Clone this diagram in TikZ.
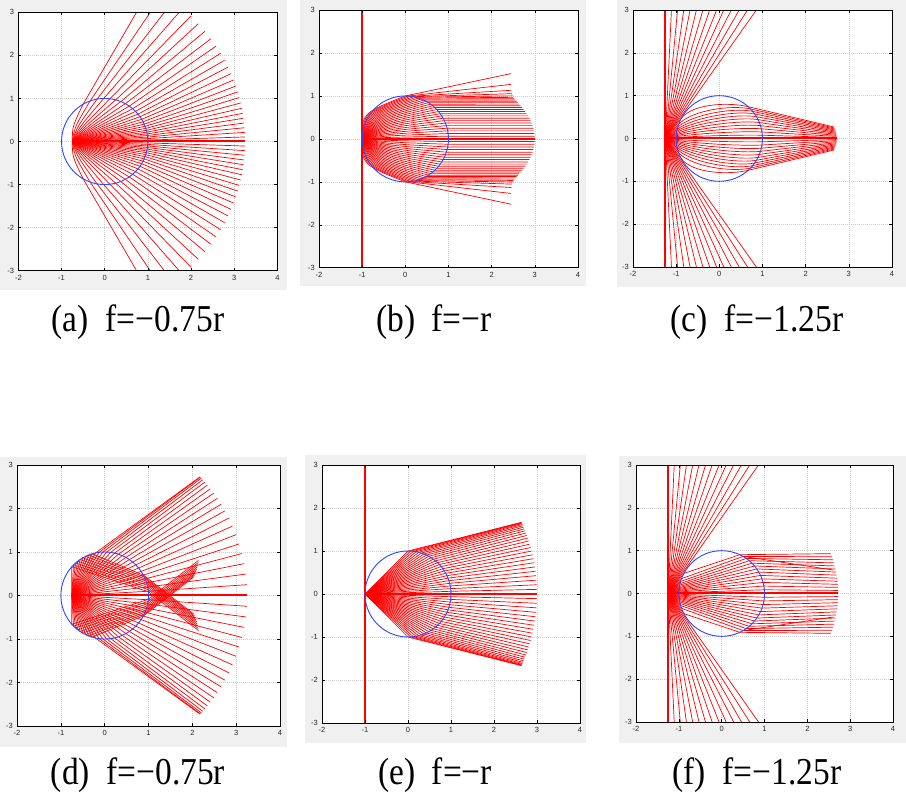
\documentclass[tikz,border=0pt]{standalone}
\usepackage{fontspec}
\setmainfont{Liberation Serif}
\newfontfamily\tickfont{Liberation Sans}
\definecolor{figbg}{RGB}{240,240,240}
\definecolor{gridc}{RGB}{205,205,205}
\definecolor{raycol}{RGB}{255,0,0}
\definecolor{circcol}{RGB}{45,70,255}
\definecolor{tickc}{RGB}{40,40,40}
\tikzset{
  rayline/.style={draw=raycol, line width=0.7pt},
  raybold/.style={draw=raycol, line width=1.3pt},
  gridline/.style={draw=gridc, line width=0.45pt, dash pattern=on 1pt off 1pt},
  axbox/.style={draw=black, line width=0.8pt},
  tickmark/.style={draw=black, line width=0.6pt},
  lens/.style={draw=circcol, line width=0.9pt},
  ticklab/.style={font=\tickfont\fontsize{7.5}{8}\selectfont, text=tickc, inner sep=0pt},
  captext/.style={font=\fontsize{38}{40}\selectfont, inner sep=0pt, xscale=0.88},
  figpanel/.style={fill=figbg, draw=none},
}
\newcommand\plotbg{%
  \fill[white] (-2,-3) rectangle (4,3);
  \foreach \g in {-1,...,3} \draw[gridline] (\g,-3) -- (\g,3);
  \foreach \g in {-2,...,2} \draw[gridline] (-2,\g) -- (4,\g);
}
\newcommand\plotframe[1]{%
  \draw[axbox] (-2,-3) rectangle (4,3);
  \foreach \g in {-1,...,3} {\draw[tickmark] (\g,-3) -- ++(0,0.07); \draw[tickmark] (\g,3) -- ++(0,-0.07);}
  \foreach \g in {-2,...,2} {\draw[tickmark] (-2,\g) -- ++(0.07,0); \draw[tickmark] (4,\g) -- ++(-0.07,0);}
  \foreach \g [count=\vn] in {-2,...,4} \node[ticklab, anchor=north] (#1x\vn) at ([yshift=-4pt]\g,-3) {\g};
  \foreach \g [count=\vn] in {-3,...,3} \node[ticklab, anchor=east] (#1y\vn) at ([xshift=-4pt]-2,\g) {\g};
}
\begin{document}
\begin{tikzpicture}[x=1pt,y=-1pt]
\useasboundingbox (0,0) rectangle (906,803);
\fill[white] (0,0) rectangle (906,803);
% figure backgrounds
\path[figpanel] (0,0) rectangle (287,290);
\path[figpanel] (300,0) rectangle (586,286);
\path[figpanel] (617,0) rectangle (906,287);
\path[figpanel] (0,457) rectangle (287,747);
\path[figpanel] (305,455) rectangle (586,743);
\path[figpanel] (619,456) rectangle (906,743);

% ---------------- (a)
\begin{scope}[shift={(104.7pt,-141.5pt)}, x=43.17pt, y=43.07pt]
  \plotbg
  \begin{scope}
  \clip (-2,-3) rectangle (4,3);
  \foreach \vk in {-25,...,25}{
    \pgfmathsetmacro\vu{\vk/25}
    \pgfmathsetmacro\val{120*(0.4*\vu+0.6*\vu*\vu*\vu)}
    \pgfmathsetmacro\vph{63*(0.6*\vu+0.4*\vu*\vu*\vu)}
    \pgfmathsetmacro\bx{cos(\val)}
    \pgfmathsetmacro\by{sin(\val)}
    \pgfmathsetmacro\vch{atan2(\by,(\bx)+0.75)}
    \pgfmathsetmacro\vti{\vch+16*\vu*\vu*\vu}
    \pgfmathsetmacro\cax{-0.75+0.35*cos(\vti)}
    \pgfmathsetmacro\cay{0.35*sin(\vti)}
    \pgfmathsetmacro\ex{-0.75+4*cos(\vph)}
    \pgfmathsetmacro\ey{4*sin(\vph)}
    \draw[rayline] (-0.75,0) .. controls (\cax,\cay) .. (\bx,\by) -- (\ex,\ey);
  }
  \draw[raybold, yshift=0.5pt] (-0.75,0) -- (3.25,0);
  \end{scope}
  \draw[lens] (0,0) circle (1);
  \plotframe{a}
\end{scope}

% ---------------- (b)
\begin{scope}[shift={(405.3pt,-138.9pt)}, x=43.17pt, y=42.95pt]
  \plotbg
  \begin{scope}
  \clip (-2,-3) rectangle (4,3);
  \foreach \vk in {-25,...,25}{
    \pgfmathsetmacro\vu{\vk/25}
    \pgfmathsetmacro\vth{90*\vu}
    \pgfmathsetmacro\vc{cos(\vth)}
    \pgfmathsetmacro\vs{sin(\vth)}
    \pgfmathsetmacro\cax{-1+0.6*(\vc)}
    \pgfmathsetmacro\cay{0.6*(\vs)}
    \pgfmathsetmacro\ex{3-0.55*(\vs)*(\vs)}
    \pgfmathsetmacro\vuu{(\vu)*(\vu)}
    \pgfmathsetmacro\vuf{(\vuu)*(\vuu)}
    \pgfmathsetmacro\vue{(\vuf)*(\vuf)}
    \pgfmathsetmacro\vps{12*(\vu)*(\vue)*(\vuf)*(\vuu)}
    \pgfmathsetmacro\ey{(\vs)+((\ex)-(\vc))*tan(\vps)}
    \draw[rayline] (-1,0) .. controls (\cax,\cay) .. (\vc,\vs) -- (\ex,\ey);
  }
  \draw[raybold] (-1,0) -- (3,0);
  \draw[raybold] (-1,-3) -- (-1,3);
  \end{scope}
  \draw[lens] (0,0) circle (1);
  \plotframe{b}
\end{scope}

% ---------------- (c)
\begin{scope}[shift={(719.3pt,-138.5pt)}, x=43.17pt, y=42.83pt]
  \plotbg
  \begin{scope}
  \clip (-2,-3) rectangle (4,3);
  \foreach \vj in {1,...,13}{
    \pgfmathsetmacro\vth{90-2.7*\vj}
    \pgfmathsetmacro\ex{-1.25+5*cos(\vth)}
    \pgfmathsetmacro\ey{5*sin(\vth)}
    \draw[rayline] (\ex,\ey) -- (-1.25,0) -- (\ex,-\ey);
  }
  \draw[raybold, xshift=-0.3pt] (-1.25,-3) -- (-1.25,3);
  \foreach \vk in {-11,...,11}{
    \pgfmathsetmacro\vu{\vk/11}
    \pgfmathsetmacro\vth{52*\vu}
    \pgfmathsetmacro\vc{cos(\vth)}
    \pgfmathsetmacro\vs{sin(\vth)}
    \pgfmathsetmacro\vt{1.25*(\vc)-sqrt(1.5625*(\vc)*(\vc)-0.5625)}
    \pgfmathsetmacro\ax{-1.25+(\vt)*(\vc)}
    \pgfmathsetmacro\ay{(\vt)*(\vs)}
    \pgfmathsetmacro\val{48*\vu}
    \pgfmathsetmacro\bx{cos(\val)}
    \pgfmathsetmacro\by{sin(\val)}
    \pgfmathsetmacro\ex{2.72-0.07*(\vu)*(\vu)}
    \pgfmathsetmacro\ey{0.27*(\vu)}
    \pgfmathsetmacro\vl{veclen((\ex)-(\bx),(\ey)-(\by))}
    \pgfmathsetmacro\cax{(\ax)+0.45*(\vc)}
    \pgfmathsetmacro\cay{(\ay)+0.45*(\vs)}
    \pgfmathsetmacro\cbx{(\bx)-0.45*((\ex)-(\bx))/(\vl)}
    \pgfmathsetmacro\cby{(\by)-0.45*((\ey)-(\by))/(\vl)}
    \draw[rayline] (-1.25,0) -- (\ax,\ay) .. controls (\cax,\cay) and (\cbx,\cby) .. (\bx,\by) -- (\ex,\ey);
  }
  \draw[raybold, yshift=0.5pt] (-1.25,0) -- (2.72,0);
  \end{scope}
  \draw[lens] (0,0) circle (1);
  \plotframe{c}
\end{scope}

% ---------------- (d)
\begin{scope}[shift={(104.7pt,-595.5pt)}, x=43.83pt, y=43.5pt]
  \plotbg
  \begin{scope}
  \clip (-2,-3) rectangle (4,3);
  \foreach \vk in {-19,...,19}{
    \pgfmathsetmacro\vth{90*\vk/28}
    \pgfmathsetmacro\vc{cos(\vth)}
    \pgfmathsetmacro\vs{sin(\vth)}
    \pgfmathsetmacro\vt{0.75*(\vc)+sqrt(0.5625*(\vc)*(\vc)+0.4375)}
    \pgfmathsetmacro\ax{-0.75+(\vt)*(\vc)}
    \pgfmathsetmacro\ay{(\vt)*(\vs)}
    \pgfmathsetmacro\vph{43*sin(90*\vk/19)}
    \pgfmathsetmacro\ex{-0.75+4*cos(\vph)}
    \pgfmathsetmacro\ey{4*sin(\vph)}
    \draw[rayline] (-0.75,0) -- (\ax,\ay) -- (\ex,\ey);
  }
  \draw[raybold, yshift=0.5pt] (-0.75,0) -- (3.25,0);
  \foreach \vk in {20,...,28}{
   \foreach \vsg in {1,-1}{
    \pgfmathsetmacro\vth{\vsg*90*\vk/28}
    \pgfmathsetmacro\vc{cos(\vth)}
    \pgfmathsetmacro\vs{sin(\vth)}
    \pgfmathsetmacro\vt{0.75*(\vc)+sqrt(0.5625*(\vc)*(\vc)+0.4375)}
    \pgfmathsetmacro\ax{-0.75+(\vt)*(\vc)}
    \pgfmathsetmacro\ay{(\vt)*(\vs)}
    \pgfmathsetmacro\vbe{\vsg*(5+23*(28-\vk)/8)}
    \pgfmathsetmacro\bx{cos(\vbe)}
    \pgfmathsetmacro\by{sin(\vbe)}
    \pgfmathsetmacro\vout{-38*\vsg}
    \pgfmathsetmacro\ex{(\bx)+1.45*cos(\vout)}
    \pgfmathsetmacro\ey{(\by)+1.45*sin(\vout)}
    \draw[rayline] (-0.75,0) -- (\ax,\ay) -- (\bx,\by) -- (\ex,\ey);
   }
  }
  \end{scope}
  \draw[lens] (0,0) circle (1);
  \plotframe{d}
\end{scope}

% ---------------- (e)
\begin{scope}[shift={(408pt,-594pt)}, x=43pt, y=43pt]
  \plotbg
  \begin{scope}
  \clip (-2,-3) rectangle (4,3);
  \foreach \vk in {-25,...,25}{
    \pgfmathsetmacro\vu{\vk/25}
    \pgfmathsetmacro\bx{cos(90*\vu)}
    \pgfmathsetmacro\by{sin(90*\vu)}
    \pgfmathsetmacro\vph{24.6*sin(90*\vu)}
    \pgfmathsetmacro\ex{-1+4*cos(\vph)}
    \pgfmathsetmacro\ey{4*sin(\vph)}
    \draw[rayline] (-1,0) -- (\bx,\by) -- (\ex,\ey);
  }
  \draw[raybold] (-1,0) -- (3,0);
  \draw[raybold] (-1,-3) -- (-1,3);
  \end{scope}
  \draw[lens] (0,0) circle (1);
  \plotframe{e}
\end{scope}

% ---------------- (f)
\begin{scope}[shift={(721.7pt,-593.5pt)}, x=42.83pt, y=42.83pt]
  \plotbg
  \begin{scope}
  \clip (-2,-3) rectangle (4,3);
  \foreach \vj in {1,...,13}{
    \pgfmathsetmacro\vth{90-2.7*\vj}
    \pgfmathsetmacro\ex{-1.25+5*cos(\vth)}
    \pgfmathsetmacro\ey{5*sin(\vth)}
    \draw[rayline] (\ex,\ey) -- (-1.25,0) -- (\ex,-\ey);
  }
  \draw[raybold, xshift=-0.2pt] (-1.25,-3) -- (-1.25,3);
  \foreach \vk in {-13,...,13}{
    \pgfmathsetmacro\vu{\vk/13}
    \pgfmathsetmacro\vth{52*\vu}
    \pgfmathsetmacro\vc{cos(\vth)}
    \pgfmathsetmacro\vs{sin(\vth)}
    \pgfmathsetmacro\vt{1.25*(\vc)-sqrt(1.5625*(\vc)*(\vc)-0.5625)}
    \pgfmathsetmacro\ax{-1.25+(\vt)*(\vc)}
    \pgfmathsetmacro\ay{(\vt)*(\vs)}
    \pgfmathsetmacro\val{65*\vu}
    \pgfmathsetmacro\bx{cos(\val)}
    \pgfmathsetmacro\by{sin(\val)}
    \pgfmathsetmacro\ex{2.72-0.17*(\vu)*(\vu)}
    \pgfmathsetmacro\ey{0.93*(\vu)}
    \draw[rayline] (-1.25,0) -- (\ax,\ay) -- (\bx,\by) -- (\ex,\ey);
  }
  \draw[raybold, yshift=0.5pt] (-1.25,0) -- (2.72,0);
  \draw[rayline] ({cos(60)},{sin(60)}) -- (2.6,0.55);
  \draw[rayline] ({cos(60)},{-sin(60)}) -- (2.6,-0.55);
  \end{scope}
  \draw[lens] (0,0) circle (1);
  \plotframe{f}
\end{scope}

% captions
\node[captext] (capa) at (138,322) {(a)\ \ f=−0.75r};
\node[captext] (capb) at (434,322) {(b)\ \ f=−r};
\node[captext] (capc) at (757,322) {(c)\ \ f=−1.25r};
\node[captext] (capd) at (138,775) {(d)\ \ f=−0.75r};
\node[captext] (cape) at (435,775) {(e)\ \ f=−r};
\node[captext] (capf) at (757,775) {(f)\ \ f=−1.25r};
\end{tikzpicture}
\end{document}
